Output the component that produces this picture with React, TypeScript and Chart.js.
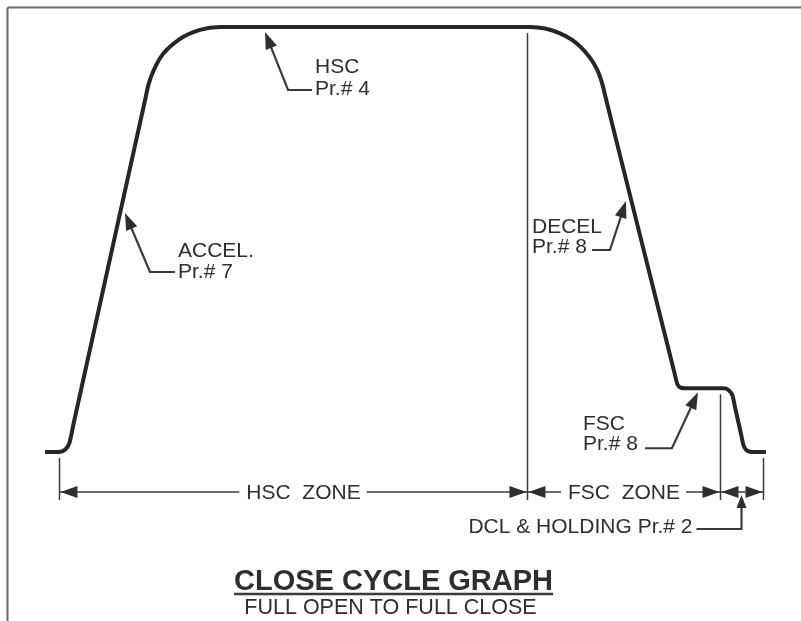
import { useEffect, useRef } from 'react';
import { Chart, registerables } from 'chart.js';

Chart.register(...registerables);

// Close cycle speed profile (time in % of cycle, speed in % of HSC)
const timeValues = [
  0, 1.85, 2.82, 3.38, 4.02, 13.9, 14.38, 15.97, 18.75, 21.53, 24.31,
  67.36, 71.53, 74.31, 76.67, 77.38, 77.78, 87.36, 87.85, 88.33, 88.96,
  94.17, 94.93, 95.5, 95.83, 96.67, 97.01, 97.43, 98.19, 100.14,
];
const speedValues = [
  0, 0, 0.59, 2.07, 7.06, 82.82, 86.49, 92.64, 97.2, 99.34, 100,
  100, 98.52, 95.44, 90.05, 86.75, 84.0, 19.06, 15.88, 15.11, 15.0,
  15.0, 14.59, 13.18, 10.59, 4.24, 1.6, 0.4, 0, 0,
];

// Zones along the time axis
const zoneEdges = [1.94, 66.94, 93.75, 99.72];
const zoneLabels = ['HSC  ZONE', 'FSC  ZONE', ''];
const zoneEdgeSpeeds = [0, 100, 15, 0];

// Callouts
const calloutTexts = [
  ['HSC', 'Pr.# 4'],
  ['ACCEL.', 'Pr.# 7'],
  ['DECEL', 'Pr.# 8'],
  ['FSC', 'Pr.# 8'],
];
const calloutTimes = [30.56, 11.11, 80.69, 90.69];
const calloutSpeeds = [98.82, 56.24, 59.06, 14.06];
const holdingLabel = 'DCL & HOLDING Pr.# 2';

const titleText = 'CLOSE CYCLE GRAPH';
const subtitleText = 'FULL OPEN TO FULL CLOSE';

const FONT = '"Liberation Sans", Arial, Helvetica, sans-serif';
const INK = '#2e2e2e';

// layout (pixel offsets) for callouts: elbow dx,dy ; bar length ; text dx ; baselines
const calloutLayout = [
  { ex: 23, ey: 58, bar: 24, tx: 27, b: [-17, 5] },
  { ex: 25, ey: 59, bar: 25, tx: 28, b: [-15, 6] },
  { ex: -16, ey: 49, bar: -18, tx: -78, b: [-17, 3] },
  { ex: -26, ey: 56, bar: -27, tx: -89, b: [-18, 2] },
];

function arrowHead(ctx: CanvasRenderingContext2D, tx: number, ty: number, dx: number, dy: number, len: number, half: number) {
  const n = Math.hypot(dx, dy);
  const ux = dx / n;
  const uy = dy / n;
  const bx = tx - ux * len;
  const by = ty - uy * len;
  ctx.beginPath();
  ctx.moveTo(tx, ty);
  ctx.lineTo(bx - uy * half, by + ux * half);
  ctx.lineTo(bx + uy * half, by - ux * half);
  ctx.closePath();
  ctx.fill();
}

function line(ctx: CanvasRenderingContext2D, x1: number, y1: number, x2: number, y2: number) {
  ctx.beginPath();
  ctx.moveTo(x1, y1);
  ctx.lineTo(x2, y2);
  ctx.stroke();
}

const diagramPlugin = {
  id: 'diagram',
  beforeDatasetsDraw(chart: any) {
    const ctx: CanvasRenderingContext2D = chart.ctx;
    const xs = chart.scales.x;
    const ys = chart.scales.y;
    ctx.save();

    // frame
    ctx.strokeStyle = '#6a6a6a';
    ctx.lineWidth = 2;
    line(ctx, 7.5, 7.5, chart.width, 7.5);
    line(ctx, 7.5, 7.5, 7.5, chart.height);

    const baseY = ys.getPixelForValue(0);
    const dimY = baseY + 40;

    // separators
    ctx.strokeStyle = '#3a3a3a';
    ctx.lineWidth = 1.5;
    zoneEdges.forEach((t, i) => {
      const x = Math.round(xs.getPixelForValue(t)) + 0.5;
      const top = ys.getPixelForValue(zoneEdgeSpeeds[i]) + 6;
      line(ctx, x, top, x, dimY + 8);
    });

    // dimension lines
    ctx.fillStyle = INK;
    ctx.font = `21px ${FONT}`;
    ctx.textBaseline = 'alphabetic';
    for (let i = 0; i < zoneLabels.length; i++) {
      const x1 = xs.getPixelForValue(zoneEdges[i]) + 0.5;
      const x2 = xs.getPixelForValue(zoneEdges[i + 1]) + 0.5;
      const label = zoneLabels[i];
      const shift = i === 0 ? 10 : 0;
      if (label) {
        const w = ctx.measureText(label).width;
        const cx = (x1 + x2) / 2 + shift;
        ctx.textAlign = 'center';
        ctx.fillText(label, cx, dimY + 7.5);
        line(ctx, x1, dimY, cx - w / 2 - 7, dimY);
        line(ctx, cx + w / 2 + 6, dimY, x2, dimY);
      } else {
        line(ctx, x1, dimY, x2, dimY);
      }
      arrowHead(ctx, x1 + 1, dimY, -1, 0, 17, 6);
      arrowHead(ctx, x2 - 1, dimY, 1, 0, 17, 6);
    }

    // holding callout
    const hx = Math.round((xs.getPixelForValue(zoneEdges[2]) + xs.getPixelForValue(zoneEdges[3])) / 2) + 0.5;
    ctx.lineWidth = 2.2;
    ctx.beginPath();
    ctx.moveTo(hx, dimY + 12);
    ctx.lineTo(hx, dimY + 37);
    ctx.lineTo(hx - 45, dimY + 37);
    ctx.stroke();
    arrowHead(ctx, hx, dimY + 3, 0, -1, 13, 5);
    ctx.textAlign = 'right';
    ctx.fillText(holdingLabel, hx - 49, dimY + 41);

    // curve callouts
    calloutTexts.forEach((lines, i) => {
      const L = calloutLayout[i];
      const tx = xs.getPixelForValue(calloutTimes[i]);
      const ty = ys.getPixelForValue(calloutSpeeds[i]);
      const ex = tx + L.ex;
      const ey = ty + L.ey;
      ctx.lineWidth = 2.2;
      ctx.beginPath();
      ctx.moveTo(tx + (ex - tx) * 0.2, ty + (ey - ty) * 0.2);
      ctx.lineTo(ex, ey);
      ctx.lineTo(ex + L.bar, ey);
      ctx.stroke();
      arrowHead(ctx, tx, ty, tx - ex, ty - ey, 17, 6);
      ctx.textAlign = 'left';
      lines.forEach((s, k) => ctx.fillText(s, ex + L.tx, ey + L.b[k]));
    });

    // title
    const cx = chart.width / 2 - 7;
    ctx.font = `bold 29px ${FONT}`;
    ctx.textAlign = 'center';
    ctx.fillText(titleText, cx, 590);
    const tw = ctx.measureText(titleText).width;
    ctx.lineWidth = 2.5;
    line(ctx, cx - tw / 2, 594, cx + tw / 2, 594);
    ctx.font = `21.5px ${FONT}`;
    ctx.fillText(subtitleText, cx - 3, 614);

    ctx.restore();
  },
};

export default function App() {
  const ref = useRef<HTMLCanvasElement | null>(null);
  useEffect(() => {
    if (!ref.current) return;
    const chart = new Chart(ref.current, {
      type: 'line',
      data: {
        datasets: [
          {
            label: 'Speed',
            data: timeValues.map((t, i) => ({ x: t, y: speedValues[i] })),
            borderColor: '#262626',
            borderWidth: 4,
            pointRadius: 0,
            cubicInterpolationMode: 'monotone',
            borderJoinStyle: 'round',
            fill: false,
          } as any,
        ],
      },
      options: {
        animation: false,
        responsive: false,
        maintainAspectRatio: false,
        layout: { padding: 0 },
        events: [],
        plugins: { legend: { display: false }, title: { display: false }, tooltip: { enabled: false } },
        scales: {
          x: { type: 'linear', min: -6.25, max: 105, display: false },
          y: { type: 'linear', min: -39.765, max: 106.353, display: false },
        },
      },
      plugins: [diagramPlugin],
    });
    return () => chart.destroy();
  }, []);
  return (
    <div style={{ position: 'absolute', left: 0, top: 0, width: 801, height: 621, background: '#fff' }}>
      <canvas ref={ref} width={801} height={621} style={{ display: 'block' }} />
    </div>
  );
}
